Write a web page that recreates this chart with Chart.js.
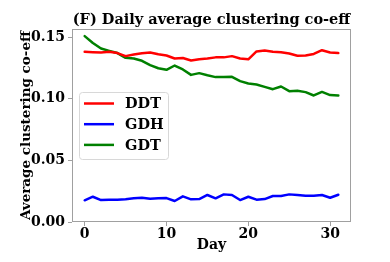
<!DOCTYPE html>
<html>
<head>
<meta charset="utf-8">
<script src="https://cdn.jsdelivr.net/npm/chart.js@4/dist/chart.umd.min.js"></script>
<style>
  html, body { margin: 0; padding: 0; background: #fff; }
  #wrap { width: 390px; height: 262px; }
</style>
</head>
<body>
<div id="wrap"><canvas id="c" width="390" height="262"></canvas></div>
<script>
// values
const days = [0,1,2,3,4,5,6,7,8,9,10,11,12,13,14,15,16,17,18,19,20,21,22,23,24,25,26,27,28,29,30,31];
const ddt = [0.138,0.1377,0.1375,0.138,0.137,0.1345,0.1358,0.1369,0.1375,0.136,0.135,0.1326,0.133,0.131,0.132,0.1325,
             0.1335,0.1335,0.1345,0.1326,0.1319,0.1383,0.139,0.138,0.1377,0.1366,0.1348,0.135,0.1363,0.1393,0.1375,0.137];
const gdh = [0.0176,0.0205,0.0178,0.0181,0.0181,0.0184,0.0192,0.0197,0.0189,0.0192,0.0194,0.017,0.0208,0.0184,0.0186,0.0219,
             0.0192,0.0224,0.0219,0.0178,0.0205,0.0181,0.0186,0.0211,0.0211,0.0224,0.0219,0.0213,0.0213,0.0219,0.0197,0.0221];
const gdt = [0.1507,0.1452,0.1407,0.1388,0.137,0.1331,0.1326,0.1307,0.1272,0.1247,0.1234,0.1269,0.1237,0.1193,0.1207,0.119,
             0.1175,0.1175,0.1177,0.1142,0.1123,0.1115,0.1096,0.1077,0.1099,0.1061,0.1064,0.1053,0.1026,0.1055,0.1029,0.1026];
const seriesNames = ['DDT', 'GDH', 'GDT'];
const seriesColors = ['#ff0000', '#0000ff', '#008000'];
const xTicks = [0, 10, 20, 30];
const yTicks = [0, 0.05, 0.10, 0.15];

const serif = "'DejaVu Serif', serif";
const frameColor = '#a0a0a0';

function pts(vals) { return vals.map((v, i) => ({ x: days[i], y: v })); }

// frame, title and in-plot legend
const decor = {
  id: 'decor',
  afterDraw(chart) {
    const ctx = chart.ctx;
    const a = chart.chartArea;
    ctx.save();
    ctx.strokeStyle = frameColor;
    ctx.lineWidth = 1;
    ctx.strokeRect(a.left + 0.5, a.top + 0.5, a.right - a.left - 1, a.bottom - a.top - 1);

    ctx.fillStyle = '#000';
    ctx.font = 'bold 14.5px ' + serif;
    ctx.textAlign = 'center';
    ctx.textBaseline = 'alphabetic';
    ctx.fillText('(F) Daily average clustering co-eff', (a.left + a.right) / 2, 24);

    // legend box
    const bx = 79, by = 92, bw = 89, bh = 67;
    ctx.beginPath();
    ctx.roundRect(bx + 0.5, by + 0.5, bw, bh, 3);
    ctx.fillStyle = 'rgba(255,255,255,0.8)';
    ctx.fill();
    ctx.strokeStyle = '#d8d8d8';
    ctx.stroke();
    ctx.font = 'bold 14.5px ' + serif;
    ctx.textAlign = 'left';
    ctx.textBaseline = 'middle';
    chart.data.datasets.forEach((ds, i) => {
      const y = 103.5 + i * 20.7;
      ctx.strokeStyle = ds.borderColor;
      ctx.lineWidth = 2.5;
      ctx.beginPath();
      ctx.moveTo(84, y);
      ctx.lineTo(114, y);
      ctx.stroke();
      ctx.fillStyle = '#000';
      ctx.fillText(ds.label, 125, y + 1);
    });
    ctx.restore();
  }
};

const tickFont = { family: serif, weight: 'bold', size: 14 };

new Chart(document.getElementById('c'), {
  type: 'line',
  data: {
    datasets: [
      { label: seriesNames[0], data: pts(ddt), borderColor: seriesColors[0] },
      { label: seriesNames[1], data: pts(gdh), borderColor: seriesColors[1] },
      { label: seriesNames[2], data: pts(gdt), borderColor: seriesColors[2] }
    ]
  },
  options: {
    responsive: false,
    animation: false,
    layout: { padding: { top: 29, right: 39, left: 0, bottom: 0 } },
    elements: {
      point: { radius: 0 },
      line: { borderWidth: 2.5, tension: 0, borderCapStyle: 'round', borderJoinStyle: 'round' }
    },
    plugins: { legend: { display: false }, tooltip: { enabled: false }, title: { display: false } },
    scales: {
      x: {
        type: 'linear',
        min: -1.55,
        max: 32.55,
        afterBuildTicks: s => { s.ticks = xTicks.map(v => ({ value: v })); },
        afterFit: s => { s.height = 40; },
        grid: { drawOnChartArea: false, tickLength: 4, color: frameColor },
        border: { display: false },
        ticks: { color: '#000', font: tickFont, padding: 0, maxRotation: 0 },
        title: { display: true, text: 'Day', color: '#000', font: { family: serif, weight: 'bold', size: 14 }, padding: { top: 0, bottom: 8 } }
      },
      y: {
        min: 0,
        max: 0.1565,
        afterBuildTicks: s => { s.ticks = yTicks.map(v => ({ value: v })); },
        afterFit: s => { s.width = 72; },
        grid: { drawOnChartArea: false, tickLength: 4, color: frameColor },
        border: { display: false },
        ticks: { color: '#000', font: tickFont, padding: 3, callback: v => v.toFixed(2) },
        title: { display: true, text: 'Average clustering co-eff', color: '#000', font: { family: serif, weight: 'bold', size: 13.5 }, padding: { top: 18, bottom: 0 } }
      }
    }
  },
  plugins: [decor]
});
</script>
</body>
</html>
